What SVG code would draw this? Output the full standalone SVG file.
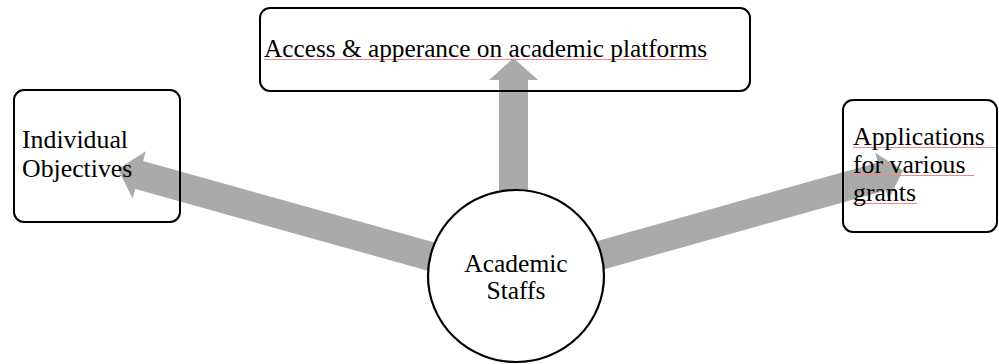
<svg xmlns="http://www.w3.org/2000/svg" width="999" height="364" viewBox="0 0 999 364">
  <defs>
    <style>
      .arrow { fill: #aaaaaa; stroke: none; }
      .box { fill: none; stroke: #000000; stroke-width: 2; }
      .hub { fill: #ffffff; stroke: #000000; stroke-width: 2.2; }
      .spell { stroke: #ee8a8a; stroke-width: 1; fill: none; }
    </style>
  </defs>
  <rect width="999" height="364" fill="#ffffff"/>
  <g id="connectors">
    <polygon class="arrow" points="499,190 499,80 489,80 513.5,58 538,80 528,80 528,190"/>
    <polygon class="arrow" points="436.4,243 143.1,160.9 145.8,151.3 118,169 132.6,198.5 135.3,188.9 428.6,271"/>
    <polygon class="arrow" points="603.4,269.5 885.7,190.4 888.4,200 903,170.5 875.2,152.8 877.9,162.4 595.6,241.5"/>
  </g>
  <g id="node-hub">
    <ellipse class="hub" cx="516" cy="276" rx="88" ry="86"/>
    <text x="516" y="272" font-family="Liberation Serif" font-size="25.5" text-anchor="middle">Academic</text>
    <text x="516" y="299" font-family="Liberation Serif" font-size="25.5" text-anchor="middle">Staffs</text>
  </g>
  <g id="node-platforms">
    <rect class="box" x="260" y="8" width="490" height="83" rx="10"/>
    <line class="spell" x1="264" y1="59.5" x2="708" y2="59.5"/>
    <text x="264" y="57" font-family="Liberation Serif" font-size="25.3">Access &amp; apperance on academic platforms</text>
  </g>
  <g id="node-objectives">
    <rect class="box" x="14" y="90" width="166" height="132" rx="10"/>
    <text x="22" y="148" font-family="Liberation Serif" font-size="25.8">Individual</text>
    <text x="22" y="177" font-family="Liberation Serif" font-size="25.8">Objectives</text>
  </g>
  <g id="node-grants">
    <rect class="box" x="843" y="100" width="154" height="132" rx="10"/>
    <line class="spell" x1="853" y1="147.5" x2="995" y2="147.5"/>
    <line class="spell" x1="853" y1="175.5" x2="974" y2="175.5"/>
    <line class="spell" x1="853" y1="203.5" x2="917" y2="203.5"/>
    <text x="853" y="145" font-family="Liberation Serif" font-size="25.8">Applications</text>
    <text x="853" y="173" font-family="Liberation Serif" font-size="25.8">for various</text>
    <text x="853" y="201" font-family="Liberation Serif" font-size="25.8">grants</text>
  </g>
</svg>
